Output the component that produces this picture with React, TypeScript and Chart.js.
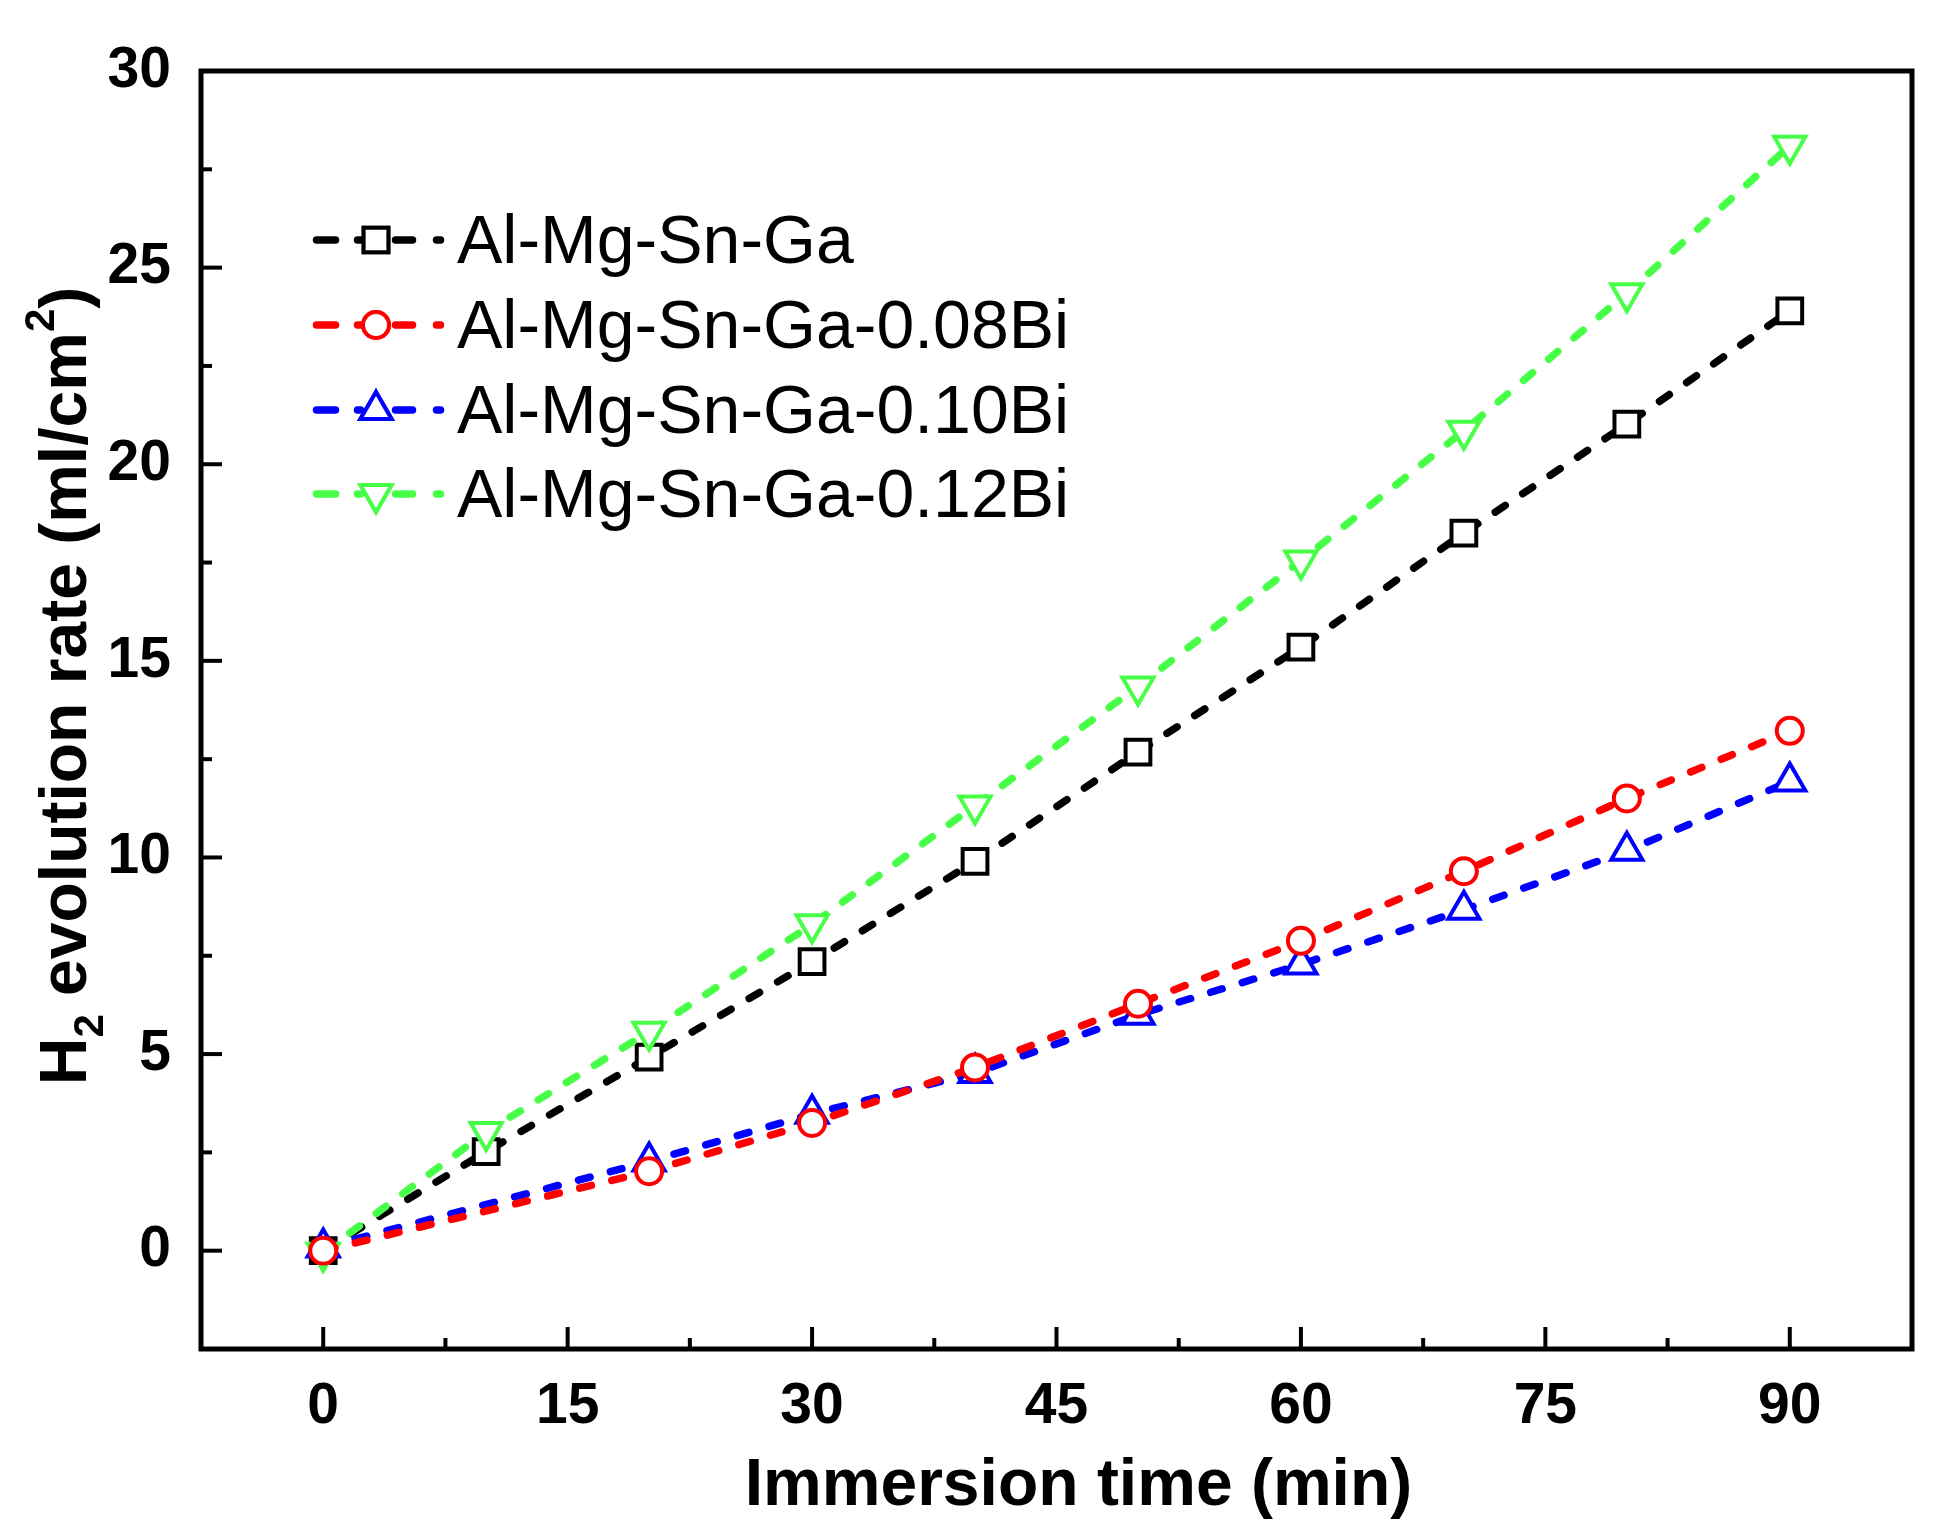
import React, { useEffect, useRef } from 'react';
import { Chart, ChartConfiguration, Plugin, registerables } from 'chart.js';
import { drawPoint } from 'chart.js/helpers';

Chart.register(...registerables);

// immersion time (min)
const timesFull = [0, 10, 20, 30, 40, 50, 60, 70, 80, 90];
const timesBi = [0, 20, 30, 40, 50, 60, 70, 80, 90];

// H2 evolution (ml/cm2)
const baseAlloy = [0, 2.52, 4.92, 7.35, 9.9, 12.68, 15.35, 18.25, 21.02, 23.9];
const bi008 = [0, 2.02, 3.25, 4.66, 6.28, 7.88, 9.65, 11.5, 13.22];
const bi010 = [0.08, 2.27, 3.48, 4.52, 6.0, 7.28, 8.67, 10.17, 11.93];
const bi012 = [-0.05, 3.02, 5.57, 8.3, 11.32, 14.35, 17.55, 20.85, 24.35, 28.1];

const seriesLabels = [
  'Al-Mg-Sn-Ga',
  'Al-Mg-Sn-Ga-0.08Bi',
  'Al-Mg-Sn-Ga-0.10Bi',
  'Al-Mg-Sn-Ga-0.12Bi'
];

const xTicks = [0, 15, 30, 45, 60, 75, 90];
const yTicks = [0, 5, 10, 15, 20, 25, 30];

const FONT = '"Liberation Sans", Arial, Helvetica, sans-serif';
const GREEN = '#47ff47';

const pts = (xs: number[], ys: number[]) => xs.map((x, i) => ({ x, y: ys[i] }));

const lineStyle = {
  borderWidth: 7.5,
  borderDash: [12, 21],
  borderCapStyle: 'round' as const,
  tension: 0,
  pointBackgroundColor: '#ffffff',
  pointBorderWidth: 4,
  fill: false
};

// inward major/minor ticks and the closed frame
const framePlugin: Plugin<'line'> = {
  id: 'frameTicks',
  afterDraw(chart) {
    const { ctx, chartArea: a, scales } = chart;
    const x = scales.x;
    const y = scales.y;
    ctx.save();
    ctx.strokeStyle = '#000';
    ctx.lineCap = 'butt';
    ctx.lineWidth = 4;
    xTicks.forEach((v, i) => {
      const px = x.getPixelForValue(v);
      ctx.beginPath();
      ctx.moveTo(px, a.bottom);
      ctx.lineTo(px, a.bottom - 22);
      ctx.stroke();
      if (i < xTicks.length - 1) {
        const mx = x.getPixelForValue((v + xTicks[i + 1]) / 2);
        ctx.beginPath();
        ctx.moveTo(mx, a.bottom);
        ctx.lineTo(mx, a.bottom - 11);
        ctx.stroke();
      }
    });
    yTicks.forEach((v, i) => {
      const py = y.getPixelForValue(v);
      ctx.beginPath();
      ctx.moveTo(a.left, py);
      ctx.lineTo(a.left + 21, py);
      ctx.stroke();
      if (i < yTicks.length - 1) {
        const my = y.getPixelForValue((v + yTicks[i + 1]) / 2);
        ctx.beginPath();
        ctx.moveTo(a.left, my);
        ctx.lineTo(a.left + 11, my);
        ctx.stroke();
      }
    });
    ctx.lineWidth = 5;
    ctx.strokeRect(a.left, a.top, a.right - a.left, a.bottom - a.top);
    ctx.restore();
  }
};

// axis titles (with sub/superscript) and the in-plot legend
const textPlugin: Plugin<'line'> = {
  id: 'titlesLegend',
  afterDraw(chart) {
    const { ctx, chartArea: a } = chart;
    ctx.save();
    ctx.fillStyle = '#000';
    ctx.textBaseline = 'alphabetic';

    // x title
    ctx.font = `bold 66px ${FONT}`;
    ctx.textAlign = 'center';
    ctx.fillText('Immersion time (min)', (a.left + a.right) / 2 + 22, 1505);

    // y title, rotated
    const big = `bold 66px ${FONT}`;
    const small = `bold 42px ${FONT}`;
    const runs: [string, string, number][] = [
      ['H', big, 0],
      ['2', small, 17],
      [' evolution rate (ml/cm', big, 0],
      ['2', small, -32],
      [')', big, 0]
    ];
    ctx.textAlign = 'left';
    let total = 0;
    runs.forEach(([t, f]) => {
      ctx.font = f;
      total += ctx.measureText(t).width;
    });
    ctx.translate(86, 686);
    ctx.rotate(-Math.PI / 2);
    let cx = -total / 2;
    runs.forEach(([t, f, dy]) => {
      ctx.font = f;
      ctx.fillText(t, cx, dy);
      cx += ctx.measureText(t).width;
    });
    ctx.setTransform(1, 0, 0, 1, 0, 0);
    const dpr = chart.currentDevicePixelRatio || 1;
    ctx.scale(dpr, dpr);

    // legend
    const rows = [240, 325, 410, 494];
    const segs: [number, number][] = [[313, 339], [354, 364], [392, 416], [433, 444]];
    chart.data.datasets.forEach((ds: any, i) => {
      const yy = rows[i];
      ctx.strokeStyle = ds.borderColor;
      ctx.lineWidth = 7.5;
      ctx.lineCap = 'round';
      segs.forEach(([s, e]) => {
        ctx.beginPath();
        ctx.moveTo(s + 3.5, yy);
        ctx.lineTo(e - 3.5, yy);
        ctx.stroke();
      });
      ctx.fillStyle = '#fff';
      ctx.lineWidth = ds.pointBorderWidth;
      drawPoint(ctx, {
        pointStyle: ds.pointStyle,
        rotation: ds.pointRotation || 0,
        radius: ds.pointRadius,
        borderWidth: ds.pointBorderWidth
      }, 376, yy);
      ctx.fill();
      ctx.stroke();
      ctx.fillStyle = '#000';
      ctx.font = `68px ${FONT}`;
      ctx.textAlign = 'left';
      ctx.textBaseline = 'alphabetic';
      ctx.fillText(ds.label, 457, yy + 23);
    });
    ctx.restore();
  }
};

export default function App() {
  const canvasRef = useRef<HTMLCanvasElement>(null);

  useEffect(() => {
    if (!canvasRef.current) return;
    const ctx = canvasRef.current.getContext('2d');
    if (!ctx) return;

    const config: ChartConfiguration<'line'> = {
      type: 'line',
      data: {
        datasets: [
          {
            ...lineStyle,
            label: seriesLabels[0],
            data: pts(timesFull, baseAlloy),
            borderColor: '#000000',
            pointBorderColor: '#000000',
            pointStyle: 'rect',
            pointRadius: 17.5,
            order: 4
          },
          {
            ...lineStyle,
            label: seriesLabels[1],
            data: pts(timesBi, bi008),
            borderColor: '#ff0000',
            pointBorderColor: '#ff0000',
            pointStyle: 'circle',
            pointRadius: 13,
            order: 1
          },
          {
            ...lineStyle,
            label: seriesLabels[2],
            data: pts(timesBi, bi010),
            borderColor: '#0000ff',
            pointBorderColor: '#0000ff',
            pointStyle: 'triangle',
            pointRadius: 18,
            order: 3
          },
          {
            ...lineStyle,
            label: seriesLabels[3],
            data: pts(timesFull, bi012),
            borderColor: GREEN,
            pointBorderColor: GREEN,
            pointStyle: 'triangle',
            pointRotation: 180,
            pointRadius: 18,
            order: 2
          }
        ]
      },
      options: {
        responsive: true,
        maintainAspectRatio: false,
        animation: false,
        layout: { padding: { top: 71, right: 32, bottom: 0, left: 0 } },
        plugins: {
          legend: { display: false },
          tooltip: { enabled: false }
        },
        scales: {
          x: {
            type: 'linear',
            min: -7.5,
            max: 97.5,
            grid: { display: false },
            border: { display: false },
            afterBuildTicks: (scale) => {
              scale.ticks = xTicks.map(v => ({ value: v }));
            },
            afterFit: (scale: any) => {
              scale.height = 191;
              scale.paddingLeft = 0;
              scale.paddingRight = 0;
            },
            ticks: {
              color: '#000',
              padding: 16,
              maxRotation: 0,
              font: { family: FONT, size: 57, weight: 'bold' }
            }
          },
          y: {
            type: 'linear',
            min: -2.5,
            max: 30,
            grid: { display: false },
            border: { display: false },
            afterBuildTicks: (scale) => {
              scale.ticks = yTicks.map(v => ({ value: v }));
            },
            afterFit: (scale: any) => {
              scale.width = 201;
              scale.paddingTop = 0;
              scale.paddingBottom = 0;
            },
            ticks: {
              color: '#000',
              padding: 22,
              font: { family: FONT, size: 57, weight: 'bold' }
            }
          }
        }
      },
      plugins: [framePlugin, textPlugin]
    };

    const chart = new Chart(ctx, config);
    return () => {
      chart.destroy();
    };
  }, []);

  return (
    <div style={{ position: 'absolute', left: 0, top: 0, width: 1944, height: 1540, background: '#fff' }}>
      <canvas ref={canvasRef} />
    </div>
  );
}
